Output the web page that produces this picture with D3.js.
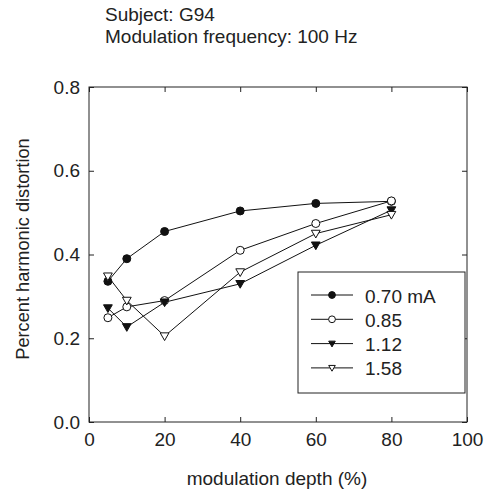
<!DOCTYPE html>
<html>
<head>
<meta charset="utf-8">
<script src="https://cdn.jsdelivr.net/npm/d3@7"></script>
<style>
body { margin: 0; background: #fff; }
text { font-family: "Liberation Sans", Arial, sans-serif; fill: #222; }
</style>
</head>
<body>
<div class="chart"></div>
<script>
// modulation depth (%)
const depths = [5, 10, 20, 40, 60, 80];
const seriesNames = ["0.70 mA", "0.85", "1.12", "1.58"];
const s070 = [0.336, 0.39, 0.455, 0.504, 0.522, 0.527];
const s085 = [0.249, 0.275, 0.29, 0.41, 0.474, 0.528];
const s112 = [0.272, 0.227, 0.286, 0.33, 0.422, 0.506];
const s158 = [0.348, 0.29, 0.205, 0.358, 0.45, 0.495];
const xTicks = [0, 20, 40, 60, 80, 100];
const yTicks = [0, 0.2, 0.4, 0.6, 0.8];

const d3 = window.d3;

let W = 484, H = 494;
let margin = {top: 87, right: 17, bottom: 72, left: 89},
    width = W - margin.left - margin.right,
    height = H - margin.top - margin.bottom;
let fs = 19;

let svg = d3.select(".chart").append("svg")
    .attr("width", W)
    .attr("height", H);

let g = svg.append("g")
    .attr("transform", "translate(" + margin.left + "," + margin.top + ")");

let x = d3.scaleLinear().domain([0, 100]).range([0, width]);
let y = d3.scaleLinear().domain([0, 0.8]).range([height, 0]);

// frame
g.append("rect")
    .attr("width", width).attr("height", height)
    .attr("fill", "none").attr("stroke", "#222").attr("stroke-width", 1);

// axes, ticks pointing inward
let styleAxis = (sel) => {
    sel.select(".domain").remove();
    sel.selectAll("line").attr("stroke", "#222");
    sel.selectAll("text").attr("font-size", fs).attr("fill", "#222");
};

g.append("g")
    .attr("transform", "translate(0," + height + ")")
    .call(d3.axisBottom(x).tickValues(xTicks).tickSize(-5).tickPadding(11).tickFormat(d3.format("d")))
    .call(styleAxis);
g.append("g")
    .call(d3.axisTop(x).tickValues(xTicks).tickSize(-5).tickFormat(""))
    .call(styleAxis);
g.append("g")
    .call(d3.axisLeft(y).tickValues(yTicks).tickSize(-5).tickPadding(9).tickFormat(d3.format(".1f")))
    .call(styleAxis);
g.append("g")
    .attr("transform", "translate(" + width + ",0)")
    .call(d3.axisRight(y).tickValues(yTicks).tickSize(-5).tickFormat(""))
    .call(styleAxis);

// axis titles
svg.append("text")
    .attr("x", 277).attr("y", 485)
    .attr("text-anchor", "middle").attr("font-size", fs)
    .text("modulation depth (%)");
svg.append("text")
    .attr("transform", "translate(29,249) rotate(-90)")
    .attr("text-anchor", "middle").attr("font-size", 18.2)
    .text("Percent harmonic distortion");

// header
svg.append("text").attr("x", 105).attr("y", 21).attr("font-size", fs).text("Subject: G94");
svg.append("text").attr("x", 105).attr("y", 43).attr("font-size", fs).text("Modulation frequency: 100 Hz");

// series
const series = [
    {name: seriesNames[0], vals: s070, shape: "circle", fill: "#111"},
    {name: seriesNames[1], vals: s085, shape: "circle", fill: "#fff"},
    {name: seriesNames[2], vals: s112, shape: "tri", fill: "#111"},
    {name: seriesNames[3], vals: s158, shape: "tri", fill: "#fff"}
];

let line = d3.line().x(d => x(d[0])).y(d => y(d[1]));

let drawMarker = (sel, s, r) => {
    if (s.shape === "circle") {
        sel.append("circle").attr("r", r)
            .attr("fill", s.fill).attr("stroke", "#111").attr("stroke-width", 1);
    } else {
        let a = r * 1.1;
        sel.append("path")
            .attr("d", "M" + (-a) + "," + (-a * 0.75) + "L" + a + "," + (-a * 0.75) + "L0," + (a * 1.0) + "Z")
            .attr("fill", s.fill).attr("stroke", "#111").attr("stroke-width", 1);
    }
};

series.forEach(s => {
    let pts = depths.map((d, i) => [d, s.vals[i]]);
    g.append("path")
        .datum(pts)
        .attr("d", line)
        .attr("fill", "none").attr("stroke", "#111").attr("stroke-width", 1);
});
series.forEach(s => {
    let pts = depths.map((d, i) => [d, s.vals[i]]);
    pts.forEach(p => {
        let m = g.append("g").attr("transform", "translate(" + x(p[0]) + "," + y(p[1]) + ")");
        drawMarker(m, s, 4);
    });
});

// legend
let lg = svg.append("g");
lg.append("rect")
    .attr("x", 298).attr("y", 272).attr("width", 167).attr("height", 121)
    .attr("fill", "#fff").attr("stroke", "#222").attr("stroke-width", 1);
series.forEach((s, i) => {
    let ly = 295 + i * 24.3;
    lg.append("line")
        .attr("x1", 311).attr("x2", 353).attr("y1", ly).attr("y2", ly)
        .attr("stroke", "#111").attr("stroke-width", 1);
    let m = lg.append("g").attr("transform", "translate(332," + ly + ")");
    drawMarker(m, s, s.shape === "circle" ? 3.4 : 3.0);
    lg.append("text")
        .attr("x", 365).attr("y", ly + 7.5)
        .attr("font-size", fs)
        .text(s.name);
});
</script>
</body>
</html>
